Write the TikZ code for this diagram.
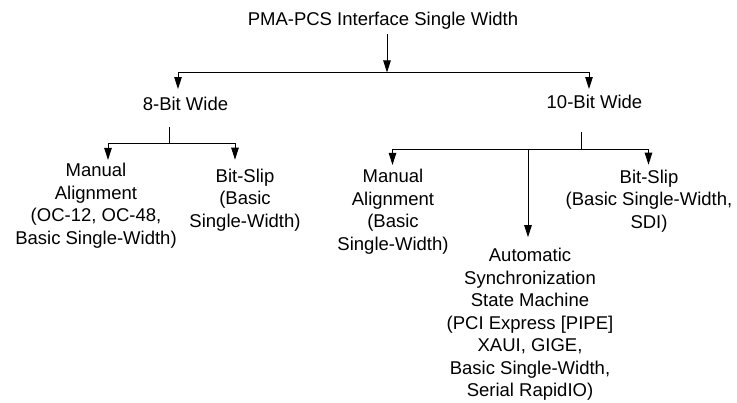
\documentclass[tikz,border=0pt]{standalone}
\usepackage{fontspec}
\setmainfont{Liberation Sans}
\usetikzlibrary{arrows.meta}
\begin{document}
\begin{tikzpicture}[x=1pt,y=-1pt,
  lbl/.style={align=center, font=\fontsize{18.5}{22.5}\selectfont, inner sep=0pt},
  conn/.style={line width=0.9pt, black},
  arr/.style={conn, -{Triangle[length=12pt,width=7.5pt]}}]
\useasboundingbox (0,0) rectangle (737,403);
% nodes
\node[lbl] (title) at (383,21) {PMA-PCS Interface Single Width};
\node[lbl] (eight) at (185.5,104) {8-Bit Wide};
\node[lbl] (ten) at (594.5,102) {10-Bit Wide};
\node[lbl] (man8) at (96,205.5) {Manual\\Alignment\\(OC-12, OC-48,\\Basic Single-Width)};
\node[lbl] (slip8) at (245,200) {Bit-Slip\\(Basic\\Single-Width)};
\node[lbl] (man10) at (393,211.5) {Manual\\Alignment\\(Basic\\Single-Width)};
\node[lbl] (auto) at (530,324.5) {Automatic\\Synchronization\\State Machine\\(PCI Express [PIPE]\\XAUI, GIGE,\\Basic Single-Width,\\Serial RapidIO)};
\node[lbl] (slip10) at (649,201) {Bit-Slip\\(Basic Single-Width,\\SDI)};
% junction coordinates
\coordinate (top) at (387,72.5);
\coordinate (b8) at (178,72.5);
\coordinate (b10) at (589,72.5);
\coordinate (s8) at (169,143.5);
\coordinate (l8) at (108,143.5);
\coordinate (r8) at (235,143.5);
\coordinate (s10) at (581,149);
\coordinate (l10) at (392.5,149);
\coordinate (m10) at (528,149);
\coordinate (r10) at (648.5,149);
% connectors
\draw[arr, shorten <=4pt] (title.south -| top) -- (top);
\draw[conn] (b8) -- (b10);
\draw[arr, shorten >=8pt] (b8) -- (b8 |- eight.north);
\draw[arr, shorten >=6pt] (b10) -- (b10 |- ten.north);
\draw[conn, shorten <=16pt] (eight.south -| s8) -- (s8);
\draw[conn] (l8) -- (r8);
\draw[arr, shorten >=3pt] (l8) -- (l8 |- man8.north);
\draw[arr, shorten >=9pt] (r8) -- (r8 |- slip8.north);
\draw[conn, shorten <=23pt] (ten.south -| s10) -- (s10);
\draw[conn] (l10) -- (r10);
\draw[arr, shorten >=4pt] (l10) -- (l10 |- man10.north);
\draw[arr, shorten >=5pt] (r10) -- (r10 |- slip10.north);
\draw[arr, shorten >=11pt] (m10) -- (m10 |- auto.north);
\end{tikzpicture}
\end{document}
